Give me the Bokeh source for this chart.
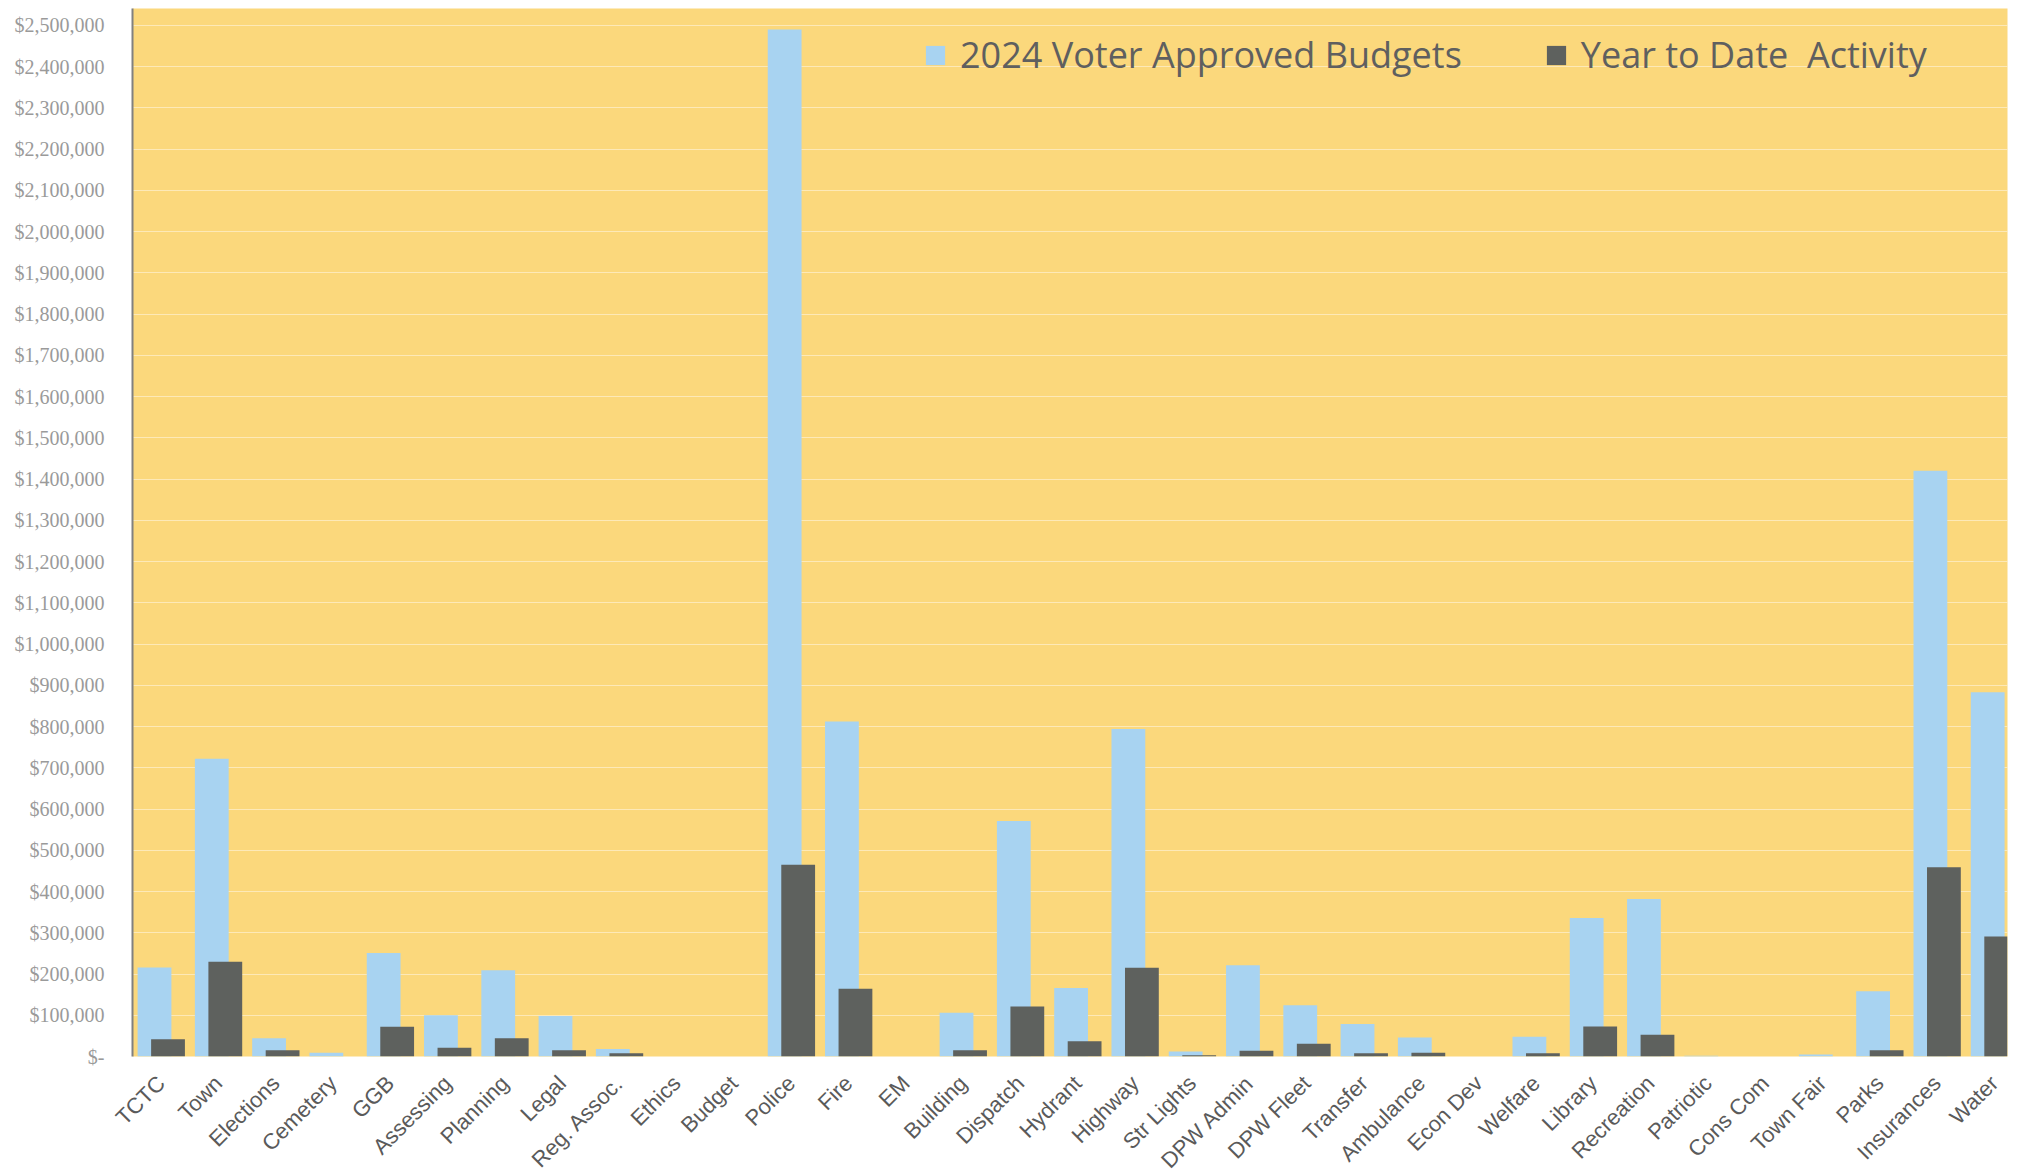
from bokeh.plotting import figure
from bokeh.models import (ColumnDataSource, Range1d, FixedTicker, NumeralTickFormatter,
                          Legend, LegendItem)
from bokeh.transform import dodge
from bokeh.embed import file_html
from bokeh.resources import INLINE
import math

categories = ["TCTC", "Town", "Elections", "Cemetery", "GGB", "Assessing", "Planning",
              "Legal", "Reg. Assoc.", "Ethics", "Budget", "Police", "Fire", "EM",
              "Building", "Dispatch", "Hydrant", "Highway", "Str Lights", "DPW Admin",
              "DPW Fleet", "Transfer", "Ambulance", "Econ Dev", "Welfare", "Library",
              "Recreation", "Patriotic", "Cons Com", "Town Fair", "Parks", "Insurances",
              "Water"]

budget_2024 = [216000, 722000, 44000, 9000, 251000, 100000, 209000,
               98000, 18000, 0, 0, 2490000, 812000, 0,
               106000, 571000, 166000, 794000, 12000, 221000,
               124000, 79000, 46000, 0, 48000, 336000,
               382000, 2000, 0, 5000, 158000, 1420000,
               883000]

ytd_activity = [42000, 230000, 15000, 0, 72000, 21000, 44000,
                15000, 8000, 0, 0, 465000, 164000, 0,
                15000, 121000, 37000, 215000, 3000, 14000,
                31000, 8000, 9000, 0, 8000, 73000,
                53000, 0, 0, 0, 15000, 459000,
                291000]

y_ticks = list(range(0, 2600000, 100000))

source = ColumnDataSource(dict(idx=list(range(len(categories))), cat=categories,
                               budget=budget_2024, ytd=ytd_activity))

p = figure(frame_width=1875, frame_height=1048,
           min_border_left=132, min_border_right=9, min_border_top=8, min_border_bottom=110,
           x_range=Range1d(-0.5, 32.23), y_range=Range1d(0, 2541000),
           output_backend="svg", toolbar_location=None)

p.background_fill_color = "#FBD87C"
p.border_fill_color = "white"
p.outline_line_color = None

r1 = p.vbar(x=dodge("idx", -0.116, range=p.x_range), top="budget", width=0.59,
            source=source, fill_color="#A8D3F1", line_color=None)
r2 = p.vbar(x=dodge("idx", 0.12, range=p.x_range), top="ytd", width=0.59,
            source=source, fill_color="#5E615E", line_color=None)

# y axis
p.yaxis.ticker = FixedTicker(ticks=y_ticks)
p.yaxis.formatter = NumeralTickFormatter(format="$0,0")
p.yaxis.major_label_overrides = {0: "$-"}
p.yaxis.major_label_text_font = "Liberation Serif"
p.yaxis.major_label_text_font_size = "20px"
p.yaxis.major_label_text_color = "#9a9a9a"
p.yaxis.major_tick_line_color = None
p.yaxis.minor_tick_line_color = None
p.yaxis.axis_line_color = "#808080"
p.yaxis.axis_line_width = 2
p.yaxis.major_label_standoff = 22

# x axis
p.xaxis.ticker = FixedTicker(ticks=list(range(len(categories))))
p.xaxis.major_label_overrides = {i: c for i, c in enumerate(categories)}
p.xaxis.major_label_orientation = math.pi / 4
p.xaxis.major_label_text_font = "Liberation Sans"
p.xaxis.major_label_text_font_size = "22px"
p.xaxis.major_label_text_color = "#5a5a5a"
p.xaxis.major_tick_line_color = None
p.xaxis.minor_tick_line_color = None
p.xaxis.axis_line_color = None
p.xaxis.major_label_standoff = 17

p.xgrid.grid_line_color = None
p.ygrid.grid_line_color = "white"
p.ygrid.grid_line_alpha = 0.45
p.ygrid.grid_line_width = 1

legend = Legend(items=[LegendItem(label="2024 Voter Approved Budgets", renderers=[r1]),
                       LegendItem(label="Year to Date  Activity", renderers=[r2])],
                orientation="horizontal", location=(791, 977),
                padding=0, margin=0, spacing=82, label_standoff=13,
                glyph_width=24, glyph_height=24, label_height=24,
                label_text_font="Open Sans", label_text_font_size="36px",
                label_text_color="#5f5f5f",
                border_line_color=None, background_fill_alpha=0)
p.add_layout(legend)

open("out.html", "w").write(file_html(p, INLINE))
